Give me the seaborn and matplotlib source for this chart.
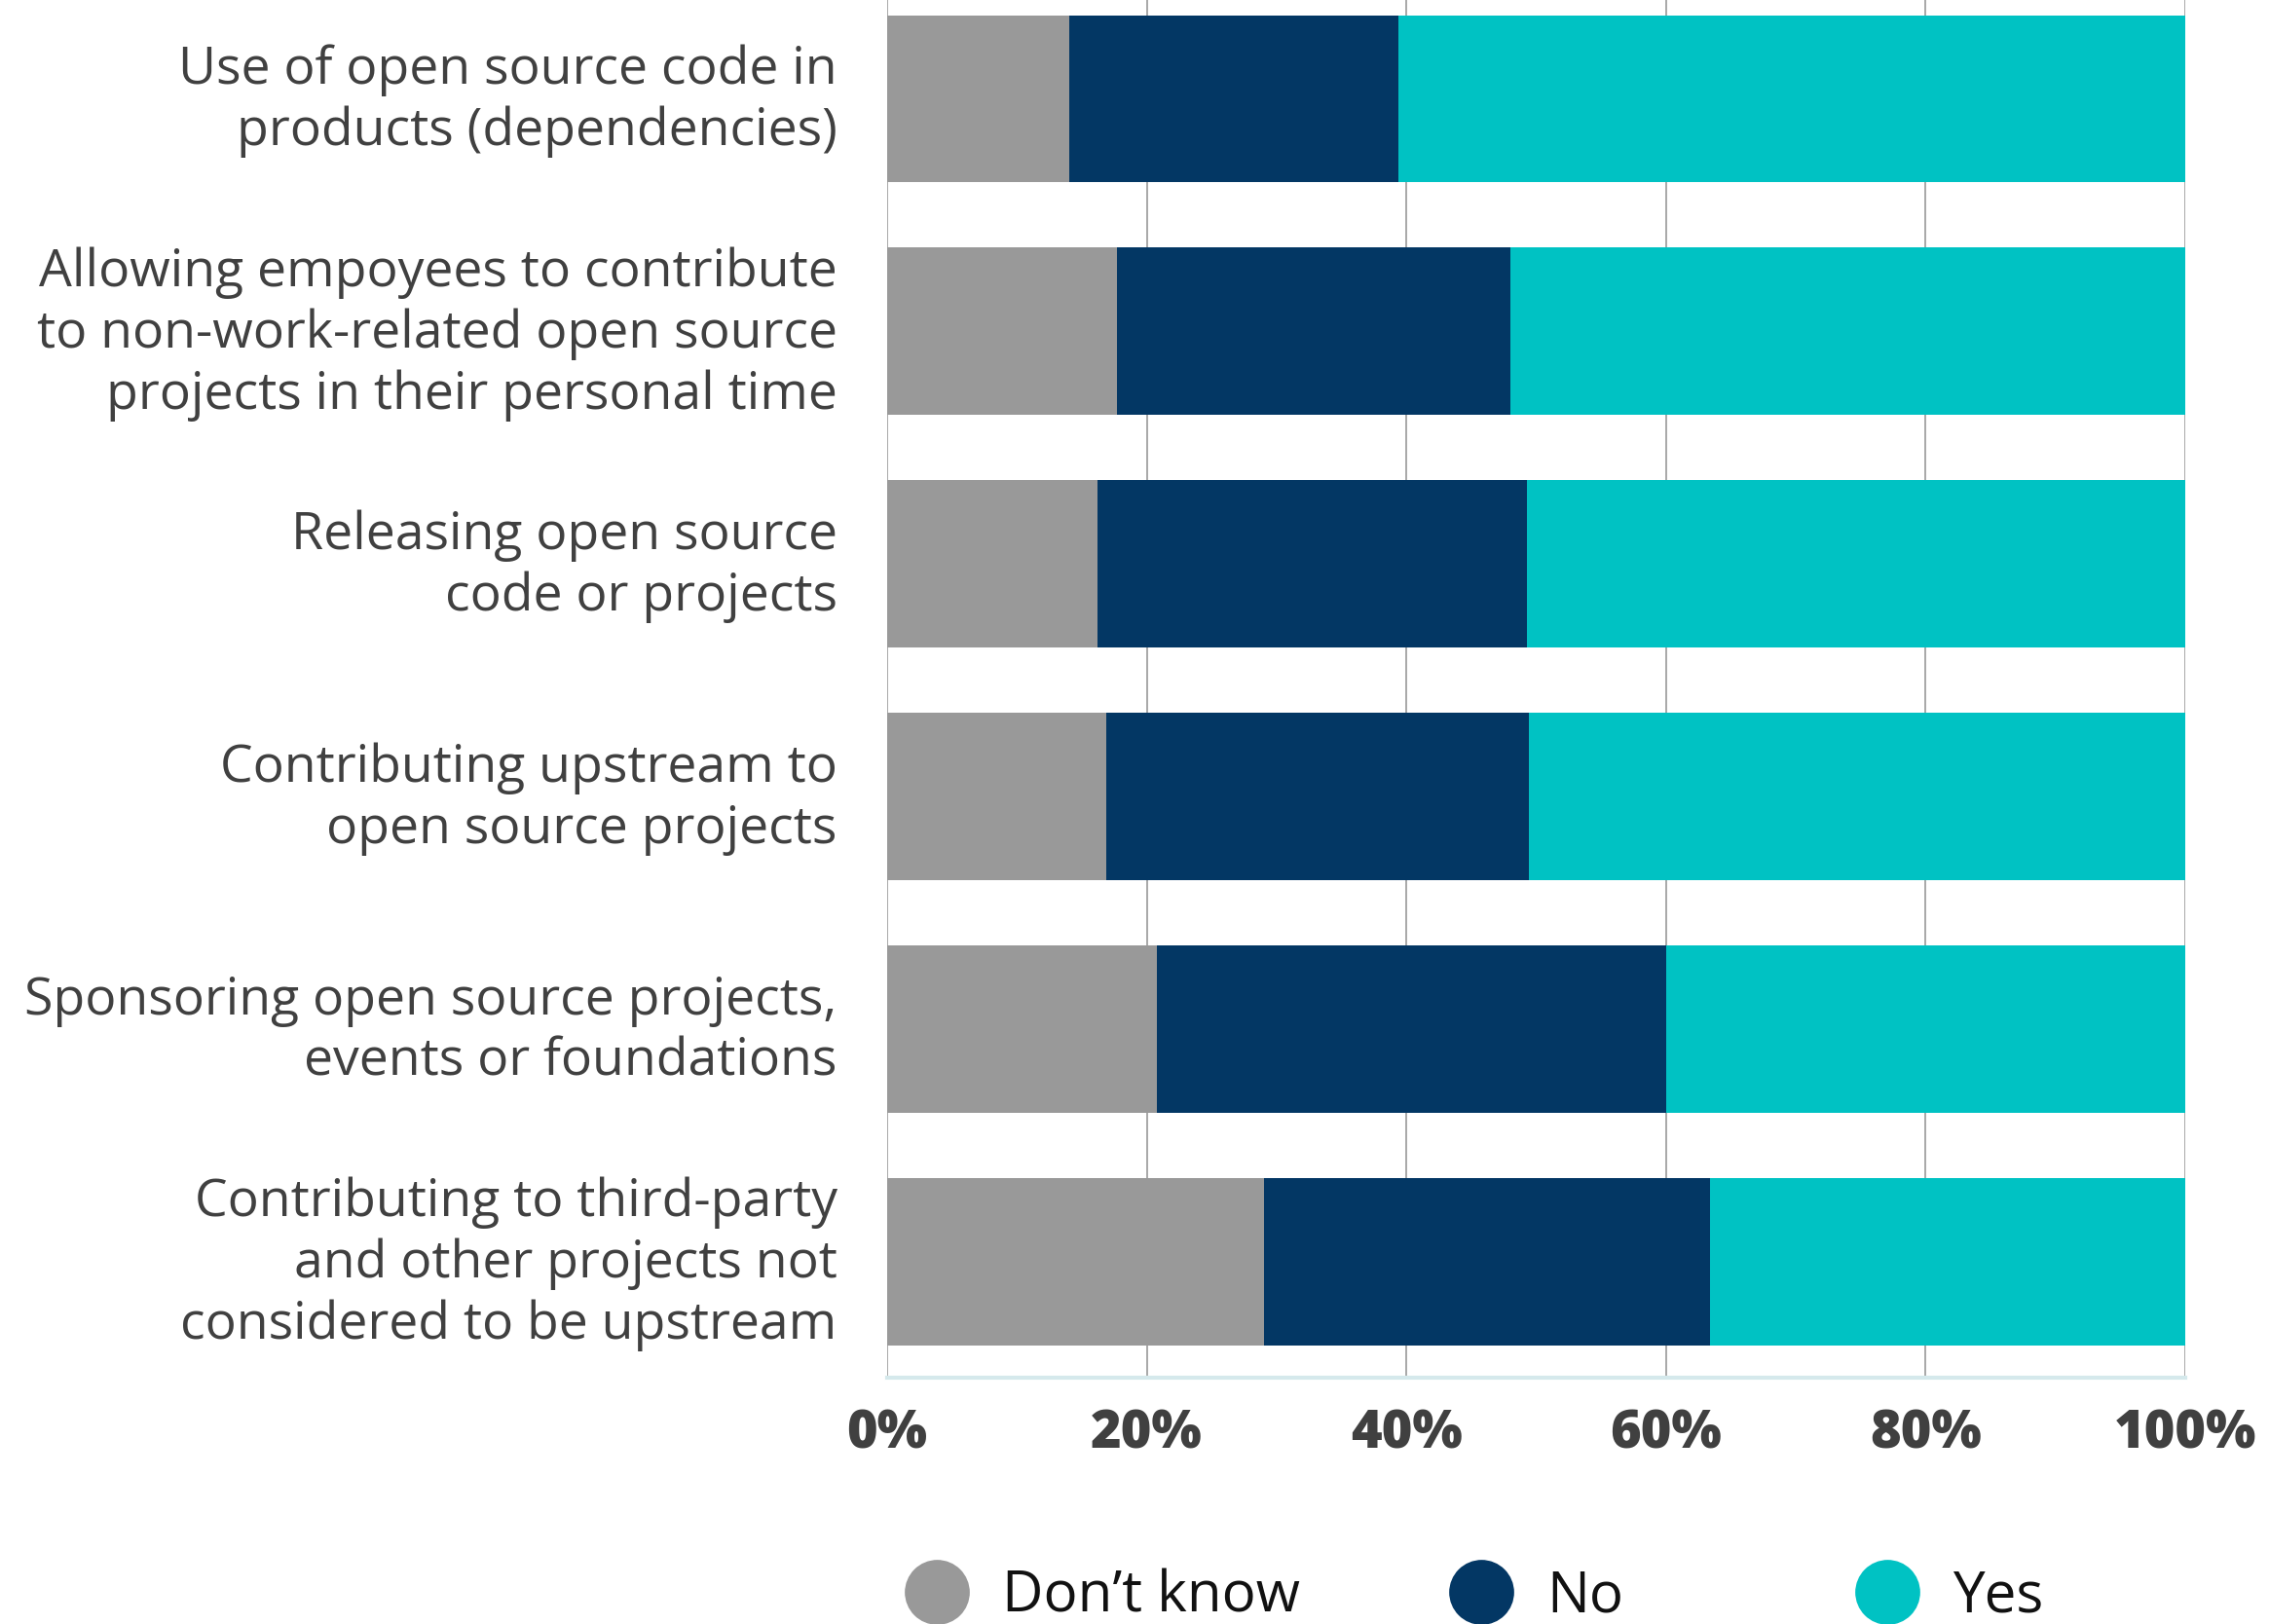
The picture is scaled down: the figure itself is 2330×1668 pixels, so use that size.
import matplotlib
matplotlib.use("Agg")
import matplotlib.pyplot as plt
import matplotlib.transforms as mtransforms
from matplotlib.lines import Line2D
import numpy as np
import pandas as pd
import seaborn as sns

categories = [
    "Use of open source code in\nproducts (dependencies)",
    "Allowing empoyees to contribute\nto non-work-related open source\nprojects in their personal time",
    "Releasing open source\ncode or projects",
    "Contributing upstream to\nopen source projects",
    "Sponsoring open source projects,\nevents or foundations",
    "Contributing to third-party\nand other projects not\nconsidered to be upstream",
]
dont_know = [14.0, 17.7, 16.2, 16.9, 20.8, 29.0]
no = [25.4, 30.3, 33.1, 32.5, 39.2, 34.4]
yes = [60.6, 52.0, 50.7, 50.6, 40.0, 36.6]

series = ["Don\u2019t know", "No", "Yes"]
colors = ["#999999", "#033764", "#00C2C3"]

sns.set_style("white")
plt.rcParams["font.family"] = ["Open Sans", "DejaVu Sans"]

df = pd.DataFrame({"cat": categories, "dk": dont_know, "no": no, "yes": yes})
df["c1"] = df["dk"]
df["c2"] = df["dk"] + df["no"]
df["c3"] = df["c2"] + df["yes"]

fig = plt.figure(figsize=(23.3, 16.68), dpi=100)
ax = fig.add_axes([911 / 2330, 253 / 1668, 1333 / 2330, 1 - 253 / 1668])

# stacked bars: draw cumulative totals back to front
for col, color in zip(["c3", "c2", "c1"], colors[::-1]):
    sns.barplot(data=df, x=col, y="cat", color=color, width=0.72,
                orient="h", ax=ax, saturation=1, linewidth=0)

ax.set_xlim(0, 100)
ax.set_ylim(5.5, -0.425)
ax.set_xticks(np.arange(0, 101, 20))
ax.set_xticklabels([f"{v}%" for v in range(0, 101, 20)])
ax.xaxis.grid(True, color="#999999", linewidth=1.2)
ax.set_axisbelow(True)
for s in ["top", "right", "left"]:
    ax.spines[s].set_visible(False)
ax.spines["bottom"].set_color("#d5e9ec")
ax.spines["bottom"].set_linewidth(3)
ax.set_xlabel("")
ax.set_ylabel("")
ax.tick_params(axis="x", length=0, pad=22, labelsize=39, labelcolor="#404040")
ax.tick_params(axis="y", length=0, pad=37, labelsize=38.5, labelcolor="#404040")
for t in ax.get_xticklabels():
    t.set_fontweight("heavy")
shift = mtransforms.ScaledTranslation(0, 6.3 / 72, fig.dpi_scale_trans)
for t in ax.get_yticklabels():
    t.set_horizontalalignment("right")
    t.set_multialignment("right")
    t.set_linespacing(1.235)
    t.set_transform(t.get_transform() + shift)

# one legend per entry so each sits where the reference puts it
legend_x = [1132, 1578, 2002]
for label, color, x in zip(series, colors, legend_x):
    h = Line2D([], [], marker="o", linestyle="", markersize=47,
               markerfacecolor=color, markeredgecolor=color)
    fig.legend([h], [label], loc="center", bbox_to_anchor=(x / 2330, 1 - 1640 / 1668),
               frameon=False, fontsize=42, handlelength=1.1, handletextpad=0.6,
               borderpad=0, labelcolor="#111111")

fig.savefig("out.png", dpi=100)
